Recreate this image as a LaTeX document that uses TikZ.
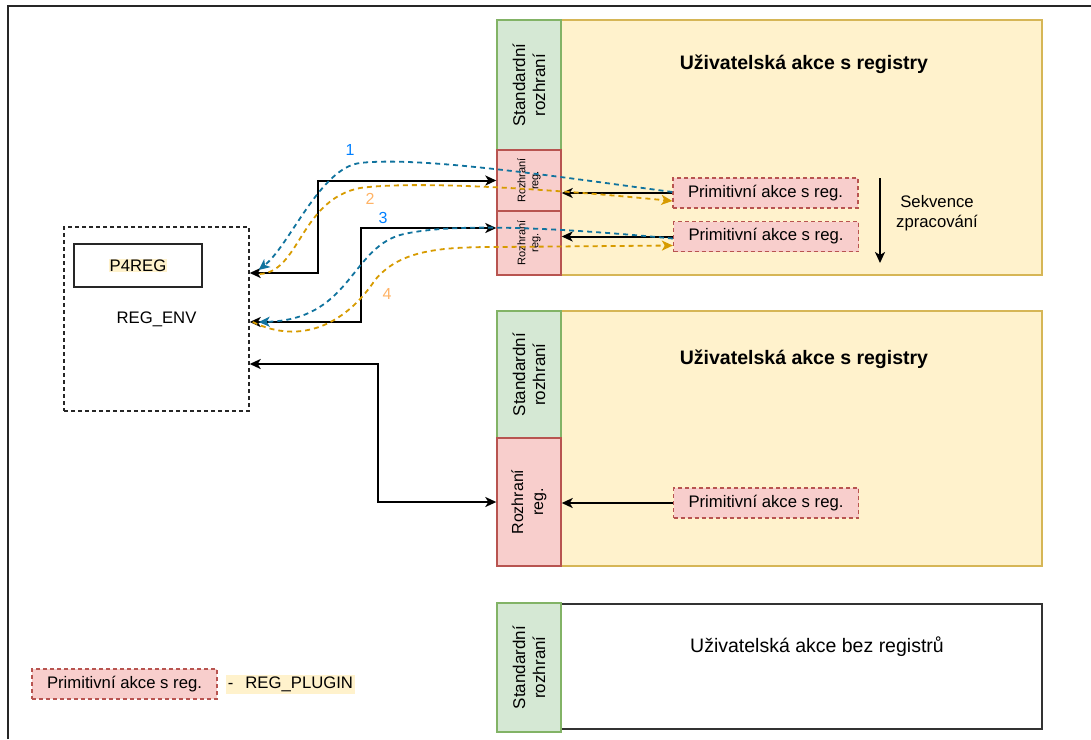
\documentclass[tikz,border=0pt]{standalone}
\usepackage{fontspec}
\setmainfont{Liberation Sans}
\usetikzlibrary{arrows.meta,positioning}

\definecolor{usrfill}{HTML}{FFF2CC}
\definecolor{usrline}{HTML}{D6B656}
\definecolor{stdfill}{HTML}{D5E8D4}
\definecolor{stdline}{HTML}{82B366}
\definecolor{regfill}{HTML}{F8CECC}
\definecolor{regline}{HTML}{B85450}
\definecolor{flowblue}{HTML}{10739E}
\definecolor{floworange}{HTML}{D79B00}
\definecolor{numblue}{HTML}{007FFF}
\definecolor{numorange}{HTML}{FFB366}

\begin{document}
\begin{tikzpicture}[
    x=1pt, y=-1pt,
    >={Stealth[length=11pt,width=10pt,inset=3pt]},
    usrbox/.style={rectangle, draw=usrline, fill=usrfill, line width=1.4pt, minimum width=481pt, inner sep=0pt},
    plainbox/.style={rectangle, draw=black!80, fill=white, line width=1.4pt, minimum width=481pt, inner sep=0pt},
    stdbox/.style={rectangle, draw=stdline, fill=stdfill, line width=1.4pt, minimum width=64pt, inner sep=0pt,
        label={[rotate=90, align=center, font=\fontsize{17}{20}\selectfont]center:Standardní\\rozhraní}},
    regbox/.style={rectangle, draw=regline, fill=regfill, line width=1.4pt, minimum width=64pt, inner sep=0pt},
    primbox/.style={rectangle, draw=regline, fill=regfill, line width=1.3pt, dash pattern=on 4pt off 3pt,
        minimum width=185pt, minimum height=30pt, font=\fontsize{16.7}{19}\selectfont},
    titletext/.style={font=\fontsize{19.5}{22}\selectfont},
    bodytext/.style={font=\fontsize{16.7}{20}\selectfont, align=center},
    numlabel/.style={font=\fontsize{16}{18}\selectfont},
    link/.style={line width=2pt, black},
    blueflow/.style={draw=flowblue, line width=1.8pt, dash pattern=on 5pt off 4pt, ->},
    orangeflow/.style={draw=floworange, line width=1.8pt, dash pattern=on 5pt off 4pt, ->}
]
\useasboundingbox (0,0) rectangle (1091,739);

% Frame
\draw[line width=2.5pt, black!85] (8,739) -- (8,6) -- (1091,6);

% Nodes
\node[usrbox, minimum height=255pt] (usr1) at (801.5,147.5) {};
\node[stdbox, minimum height=130pt] (std1) at (529,85) {};
\node[regbox, minimum height=61pt, label={[rotate=90, align=center, font=\fontsize{11}{13}\selectfont]center:Rozhraní\\reg.}] (reg1a) at (529,180.5) {};
\node[regbox, minimum height=64pt, label={[rotate=90, align=center, font=\fontsize{11}{13}\selectfont]center:Rozhraní\\reg.}] (reg1b) at (529,243) {};
\node[titletext, font=\bfseries\fontsize{19.5}{22}\selectfont] (title1) at (804,64) {Uživatelská akce s registry};
\node[primbox] (prim1) at (765.5,193) {Primitivní akce s reg.};
\node[primbox] (prim2) at (766,236.5) {Primitivní akce s reg.};
\coordinate (seqtop) at (880,178);
\coordinate (seqbot) at (880,263);
\node[bodytext] (seqtext) at (937,213) {Sekvence\\zpracování};

\node[usrbox, minimum height=255pt] (usr2) at (801.5,438.5) {};
\node[stdbox, minimum height=127pt] (std2) at (529,374.5) {};
\node[regbox, minimum height=128pt, label={[rotate=90, align=center, font=\fontsize{16}{20}\selectfont]center:Rozhraní\\reg.}] (reg2) at (529,502) {};
\node[titletext, font=\bfseries\fontsize{19.5}{22}\selectfont] (title2) at (804,359) {Uživatelská akce s registry};
\node[primbox] (prim3) at (766,503) {Primitivní akce s reg.};

\node[plainbox, minimum height=125pt] (usr3) at (801.5,666.5) {};
\node[stdbox, minimum height=129pt] (std3) at (529,667.5) {};
\node[titletext] (title3) at (817,647) {Uživatelská akce bez registrů};

\node[rectangle, draw=black!85, line width=1.4pt, dash pattern=on 4pt off 3pt, minimum width=185pt, minimum height=184pt,
    bodytext] (env) at (156.5,319) {REG\_ENV};
\node[rectangle, draw=black!85, line width=1.6pt, minimum width=128pt, minimum height=43pt, bodytext,
    fill=white] (p4reg) at (138,265.5) {\setlength{\fboxsep}{1pt}\colorbox{usrfill}{P4REG}};

\node[primbox] (legprim) at (124.5,684) {Primitivní akce s reg.};
\node[fill=usrfill, inner sep=2pt, right=8pt of legprim, font=\fontsize{16.7}{19}\selectfont] (legplugin) {-\hspace{12pt}REG\_PLUGIN};

% Arrows
\draw[link, <->] (reg1a.west) -- ++(-178,0) |- ([yshift=46pt]env.east);
\draw[link, <->] ([yshift=15pt]reg1b.west) -- ++(-135,0) |- ([yshift=-3pt]env.east);
\draw[link, <->] ([yshift=-45pt]env.east) -- ++(128,0) |- (reg2.west);
\draw[link, ->] (prim1.west) -- (reg1a.east |- prim1.west);
\draw[link, ->] (prim2.west) -- (reg1b.east |- prim2.west);
\draw[link, ->] (prim3.west) -- (reg2.east |- prim3.west);
\draw[link, ->] (seqtop) -- (seqbot);

% Flows
\draw[blueflow] ([yshift=1pt]prim1.west) .. controls (560,177) and (420,156) .. (360,163)
    .. controls (320,168) and (290,245) .. ([xshift=9pt,yshift=49pt]env.east);
\draw[orangeflow] ([xshift=10pt,yshift=45pt]env.east) .. controls (300,272) and (300,200) .. (360,188)
    .. controls (420,180) and (560,190) .. ([yshift=-8pt]prim1.west);
\draw[blueflow] ([yshift=-2pt]prim2.west) .. controls (560,228) and (450,222) .. (400,235)
    .. controls (350,250) and (350,320) .. ([xshift=9pt,yshift=-3pt]env.east);
\draw[orangeflow] ([xshift=3pt,yshift=-3pt]env.east) .. controls (300,345) and (345,325) .. (375,280)
    .. controls (400,250) and (440,247) .. (497,247) -- ([yshift=-9pt]prim2.west);

\node[numlabel, text=numblue] (num1) at (350,150) {1};
\node[numlabel, text=numorange] (num2) at (370,199) {2};
\node[numlabel, text=numblue] (num3) at (383,218) {3};
\node[numlabel, text=numorange] (num4) at (387,294) {4};
\end{tikzpicture}
\end{document}
